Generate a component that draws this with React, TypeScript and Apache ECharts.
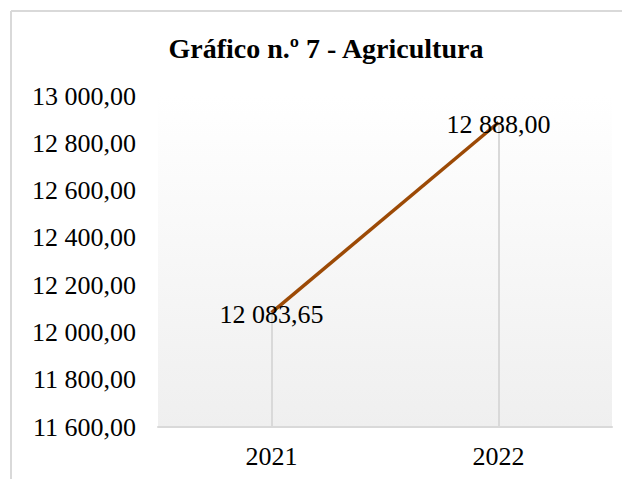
import React, { useEffect, useRef } from "react";
import * as echarts from "echarts";

const categories = ["2021", "2022"];
const values = [12083.65, 12888.0];
const yMin = 11600;
const yMax = 13000;
const yStep = 200;
const titleText = "Gráfico n.º 7 - Agricultura";

const fmt = (v: number) => {
  const [i, d] = v.toFixed(2).split(".");
  return i.replace(/\B(?=(\d{3})+(?!\d))/g, " ") + "," + d;
};

export default function App() {
  const ref = useRef<HTMLDivElement>(null);
  useEffect(() => {
    if (!ref.current) return;
    const chart = echarts.init(ref.current, null, { renderer: "svg" });
    const font = "'Liberation Serif', 'Times New Roman', serif";
    chart.setOption({
      animation: false,
      backgroundColor: "#ffffff",
      textStyle: { fontFamily: font },
      title: {
        text: titleText,
        left: 313,
        top: 21,
        textAlign: "center",
        textStyle: { fontFamily: font, fontWeight: "bold", fontSize: 28, color: "#000" },
      },
      graphic: [
        {
          type: "line",
          shape: { x1: 3, y1: 3, x2: 622, y2: 3 },
          style: { stroke: "#d9d9d9", lineWidth: 2 },
          z: -1,
        },
        {
          type: "line",
          shape: { x1: 3, y1: 3, x2: 3, y2: 471 },
          style: { stroke: "#d9d9d9", lineWidth: 2 },
          z: -1,
        },
      ],
      grid: {
        left: 150,
        right: 18,
        top: 88,
        bottom: 52,
        show: true,
        borderWidth: 0,
        backgroundColor: new echarts.graphic.LinearGradient(0, 0, 0, 1, [
          { offset: 0, color: "#ffffff" },
          { offset: 1, color: "#efefef" },
        ]),
      },
      xAxis: {
        type: "category",
        data: categories,
        boundaryGap: true,
        axisLine: { show: true, lineStyle: { color: "#d9d9d9", width: 2 } },
        axisTick: { show: false },
        axisLabel: { color: "#000", fontSize: 26, fontFamily: font, margin: 16 },
        splitLine: { show: false },
      },
      yAxis: {
        type: "value",
        min: yMin,
        max: yMax,
        interval: yStep,
        axisLine: { show: false },
        axisTick: { show: false },
        splitLine: { show: false },
        axisLabel: {
          color: "#000",
          fontSize: 26,
          fontFamily: font,
          margin: 22,
          formatter: (v: number) => fmt(v),
        },
      },
      series: [
        {
          type: "line",
          data: values,
          symbol: "circle",
          symbolSize: 1,
          showSymbol: true,
          itemStyle: { color: "rgba(0,0,0,0)" },
          lineStyle: { color: "#9c4a06", width: 3.5 },
          label: {
            show: true,
            position: "inside",
            offset: [0, 2],
            color: "#000",
            fontSize: 26,
            fontFamily: font,
            formatter: (p: any) => fmt(p.value),
          },
          markLine: {
            silent: true,
            symbol: "none",
            label: { show: false },
            lineStyle: { color: "#d9d9d9", width: 2, type: "solid" },
            data: categories.map((c, i) => [
              { coord: [c, values[i]] },
              { coord: [c, yMin] },
            ]),
            z: 1,
          },
          z: 3,
        },
      ],
    });
    return () => chart.dispose();
  }, []);
  return <div ref={ref} style={{ width: 622, height: 471 }} />;
}
